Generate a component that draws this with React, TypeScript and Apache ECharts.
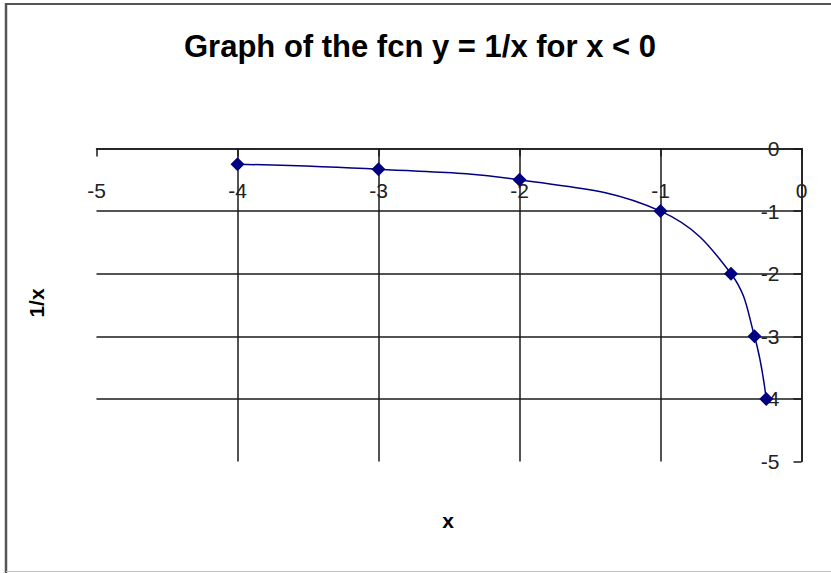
import React, { useEffect, useRef } from "react";
import * as echarts from "echarts";

// y = 1/x sampled for x < 0
const xValues: number[] = [-4, -3, -2, -1, -0.5, -0.3333, -0.25];
const yValues: number[] = [-0.25, -0.3333, -0.5, -1, -2, -3, -4];

const titleText = "Graph of the fcn y = 1/x for x < 0";
const xAxisName = "x";
const yAxisName = "1/x";

const FONT = "'Liberation Sans', Arial, sans-serif";
const NAVY = "#000080";
const INK = "#1a1a1a";

export default function App() {
  const ref = useRef<HTMLDivElement>(null);

  useEffect(() => {
    if (!ref.current) return;
    const chart = echarts.init(ref.current, null, { renderer: "svg" });
    const points = xValues.map((x, i) => [x, yValues[i]]);

    chart.setOption({
      animation: false,
      backgroundColor: "#ffffff",
      title: {
        text: titleText,
        left: 415,
        top: 26,
        textAlign: "center",
        textStyle: { fontFamily: FONT, fontSize: 31, fontWeight: "bold", color: "#000" },
      },
      grid: { left: 96.5, top: 148.5, width: 705, height: 313, containLabel: false },
      // x axis runs along y = 0, which is the top edge of the plot
      xAxis: {
        type: "value",
        min: -5,
        max: 0,
        interval: 1,
        position: "top",
        axisLine: { onZero: false, lineStyle: { color: INK, width: 1.5 } },
        axisTick: { show: true, inside: true, length: 8, lineStyle: { color: INK, width: 1.5 } },
        axisLabel: { inside: true, margin: 31, fontFamily: FONT, fontSize: 21, color: "#222" },
        splitLine: { show: true, showMinLine: false, lineStyle: { color: INK, width: 1.5 } },
      },
      // y axis runs along x = 0, the right edge of the plot
      yAxis: {
        type: "value",
        min: -5,
        max: 0,
        interval: 1,
        position: "right",
        axisLine: { onZero: false, lineStyle: { color: INK, width: 1.5 } },
        axisTick: { show: true, inside: true, length: 8, lineStyle: { color: INK, width: 1.5 } },
        axisLabel: { inside: true, margin: 22, fontFamily: FONT, fontSize: 21, color: "#222" },
        splitLine: { show: true, showMinLine: false, lineStyle: { color: INK, width: 1.5 } },
      },
      graphic: [
        { type: "line", shape: { x1: 5, y1: 4, x2: 831, y2: 4 }, style: { stroke: "#555", lineWidth: 2 } },
        { type: "line", shape: { x1: 6, y1: 3, x2: 6, y2: 573 }, style: { stroke: "#555", lineWidth: 2.5 } },
        { type: "line", shape: { x1: 6, y1: 571.5, x2: 831, y2: 571.5 }, style: { stroke: "#c0c0c0", lineWidth: 1 } },
        {
          type: "text",
          x: 448,
          y: 520,
          style: { text: xAxisName, fontFamily: FONT, fontSize: 21, fontWeight: "bold", fill: "#000", align: "center", verticalAlign: "middle" },
        },
        {
          type: "text",
          x: 36,
          y: 303,
          rotation: Math.PI / 2,
          style: { text: yAxisName, fontFamily: FONT, fontSize: 21, fontWeight: "bold", fill: "#000", align: "center", verticalAlign: "middle" },
        },
      ],
      series: [
        {
          type: "line",
          data: points,
          smooth: 0.4,
          symbol: "diamond",
          symbolSize: 14,
          itemStyle: { color: NAVY },
          lineStyle: { color: NAVY, width: 1.5 },
        },
      ],
    });

    return () => chart.dispose();
  }, []);

  return (
    <div
      ref={ref}
      style={{ position: "absolute", left: 0, top: 0, width: 831, height: 573 }}
    />
  );
}
